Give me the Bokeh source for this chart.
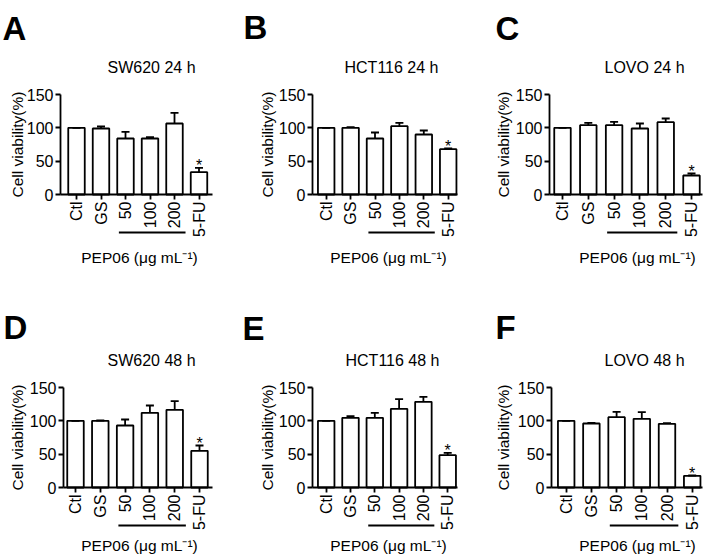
import math
from bokeh.plotting import figure
from bokeh.models import ColumnDataSource, Range1d, Label, FixedTicker
from bokeh.layouts import gridplot
from bokeh.embed import file_html
from bokeh.resources import INLINE
from bokeh.core.properties import value

# ---------------- data ----------------
groups = ["Ctl", "GS", "50", "100", "200", "5-FU"]
dose_groups = ["50", "100", "200"]
y_ticks = [0, 50, 100, 150]
significance = ["", "", "", "", "", "*"]
y_axis_label = "Cell viability(%)"
x_axis_label = "PEP06 (\u03bcg mL\u207b\u00b9)"

panel_letters = ["A", "B", "C", "D", "E", "F"]
panel_titles = ["SW620 24 h", "HCT116 24 h", "LOVO 24 h",
                "SW620 48 h", "HCT116 48 h", "LOVO 48 h"]

sw620_24h_mean = [100, 99, 84, 84, 106.5, 33.5]
sw620_24h_sem = [0, 3, 10, 2, 16, 6.5]
hct116_24h_mean = [100, 100, 84, 102.5, 90, 68]
hct116_24h_sem = [0, 1, 9, 5, 6, 1]
lovo_24h_mean = [100, 104, 104, 99, 108.5, 28.5]
lovo_24h_sem = [0, 3.5, 5, 7.5, 5.5, 3]
sw620_48h_mean = [100, 100, 93, 112, 116.5, 55]
sw620_48h_sem = [0, 0.5, 9, 11, 13, 8]
hct116_48h_mean = [100, 104.5, 104.5, 118, 128.5, 48.5]
hct116_48h_sem = [0, 2.5, 7.5, 14.5, 7.5, 3.5]
lovo_48h_mean = [100, 96, 105.5, 103, 95.5, 17.5]
lovo_48h_sem = [0, 1, 8, 10, 1, 0.5]

means = [sw620_24h_mean, hct116_24h_mean, lovo_24h_mean,
         sw620_48h_mean, hct116_48h_mean, lovo_48h_mean]
sems = [sw620_24h_sem, hct116_24h_sem, lovo_24h_sem,
        sw620_48h_sem, hct116_48h_sem, lovo_48h_sem]

# ---------------- layout / style (pixels) ----------------
FONT = "Liberation Sans"
UNITS_PER_PX = 1.5          # 150 units over 100 px
col_width = [235, 235, 239]
row_height = [280, 278]
row_zero_px = [194, 207]          # y = 0 position, from figure top
row_title_dy = [27, 27]           # above y = 150
row_xlabel_dy = [63, 58]          # below y = 0
underline_dy = 38
# per panel: y-axis x, first bar offset, bar spacing, x-axis end
axis_left = [60, 77, 79, 63, 77, 81]
first_bar = [16, 13.7, 13, 12, 13.7, 14.7]
bar_step = [24.5, 24.4, 25.8, 24.8, 24.3, 25.2]
axis_right = [212, 222, 232, 212, 222, 232]
title_cx = [151, 156, 174, 151, 157, 174]
xlabel_cx = [139, 153, 167, 139, 153, 167]
ylabel_cx = [17, 32, 33, 17, 32, 33]
letter_x = [2, 8, 25, 3, 7, 25]
letter_base = [28, 27, 28, 47, 48, 47]
BAR_PX = 16.5
CAP_PX = 8
LW = 1.8


def make_panel(r, c, idx):
    W = col_width[c]
    H = row_height[r]
    s = bar_step[idx]
    x_first = axis_left[idx] + first_bar[idx]

    def xd(px):
        return (px - x_first) / s

    def yd(px_from_top):
        return (row_zero_px[r] - px_from_top) * UNITS_PER_PX

    p = figure(width=W, height=H,
               x_range=Range1d(xd(0), xd(W)),
               y_range=Range1d(yd(H), yd(0)),
               output_backend="svg", toolbar_location=None,
               min_border_left=0, min_border_right=0,
               min_border_top=0, min_border_bottom=0)
    p.outline_line_color = None
    p.xgrid.visible = False
    p.ygrid.visible = False
    p.background_fill_color = "white"
    p.border_fill_color = "white"

    m = means[idx]
    e = sems[idx]
    pos = list(range(len(groups)))
    src = ColumnDataSource(dict(x=pos, m=m, hi=[a + b for a, b in zip(m, e)],
                                cl=[v - CAP_PX / 2 / s for v in pos],
                                cr=[v + CAP_PX / 2 / s for v in pos],
                                sig=significance))

    p.vbar(x="x", top="m", bottom=0, width=BAR_PX / s, source=src,
           fill_color="white", line_color="black", line_width=LW)
    p.segment(x0="x", y0="m", x1="x", y1="hi", source=src,
              line_color="black", line_width=LW)
    p.segment(x0="cl", y0="hi", x1="cr", y1="hi", source=src,
              line_color="black", line_width=LW)
    p.text(x="x", y="hi", text="sig", source=src, text_align="center",
           text_baseline="alphabetic", y_offset=-2,
           text_font=value(FONT), text_font_size="16px", text_color="black")

    # dose underline
    i0 = groups.index(dose_groups[0])
    i1 = groups.index(dose_groups[-1])
    yline = -underline_dy * UNITS_PER_PX
    p.segment(x0=[i0 - 0.27], y0=[yline], x1=[i1 + 0.45], y1=[yline],
              line_color="black", line_width=LW)

    # axes
    ya = p.yaxis[0]
    ya.fixed_location = xd(axis_left[idx])
    ya.ticker = FixedTicker(ticks=y_ticks)
    ya.bounds = (y_ticks[0], y_ticks[-1])
    ya.major_label_text_font = FONT
    ya.major_label_text_font_size = "16px"
    ya.major_label_text_color = "black"
    ya.major_label_standoff = 2
    ya.major_tick_out = 5
    ya.major_tick_in = 0
    ya.minor_tick_out = 0
    ya.minor_tick_in = 0
    ya.axis_line_width = LW
    ya.major_tick_line_width = LW

    xa = p.xaxis[0]
    xa.fixed_location = 0
    xa.bounds = (xd(axis_left[idx]), xd(axis_right[idx]))
    xa.ticker = FixedTicker(ticks=pos)
    xa.major_label_overrides = {i: g for i, g in enumerate(groups)}
    xa.major_label_orientation = math.pi / 2
    xa.major_label_text_font = FONT
    xa.major_label_text_font_size = "16px"
    xa.major_label_text_color = "black"
    xa.major_label_standoff = 2
    xa.major_tick_out = 5
    xa.major_tick_in = 0
    xa.minor_tick_out = 0
    xa.minor_tick_in = 0
    xa.axis_line_width = LW
    xa.major_tick_line_width = LW

    # texts
    p.add_layout(Label(x=xd(title_cx[idx]), y=y_ticks[-1] + row_title_dy[r] * UNITS_PER_PX,
                       text=panel_titles[idx], text_align="center", text_baseline="middle",
                       text_font=FONT, text_font_size="16px", text_color="black"))
    p.add_layout(Label(x=xd(xlabel_cx[idx]), y=-row_xlabel_dy[r] * UNITS_PER_PX,
                       text=x_axis_label, text_align="center", text_baseline="middle",
                       text_font=FONT, text_font_size="15.5px", text_color="black"))
    p.add_layout(Label(x=xd(ylabel_cx[idx]), y=(y_ticks[0] + y_ticks[-1]) / 2,
                       text=y_axis_label, angle=math.pi / 2,
                       text_align="center", text_baseline="middle",
                       text_font=FONT, text_font_size="15.5px", text_color="black"))
    p.add_layout(Label(x=xd(letter_x[idx]), y=yd(letter_base[idx]),
                       text=panel_letters[idx], text_align="left", text_baseline="alphabetic",
                       text_font=FONT, text_font_size="33px", text_font_style="bold",
                       text_color="black"))
    return p


panels = []
for r in range(2):
    row_p = []
    for c in range(3):
        row_p.append(make_panel(r, c, r * 3 + c))
    panels.append(row_p)

grid = gridplot(panels, toolbar_location=None)
open("out.html", "w").write(file_html(grid, INLINE))
